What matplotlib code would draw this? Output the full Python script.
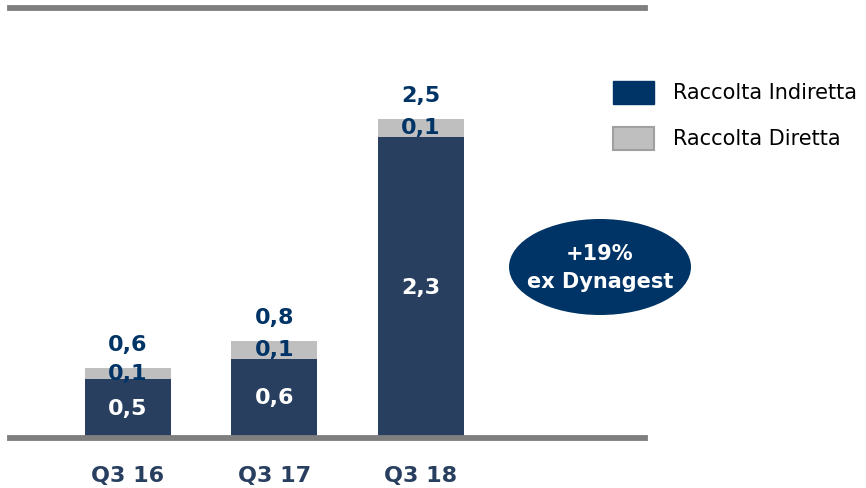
import matplotlib.pyplot as plt
from matplotlib.patches import Patch, Ellipse

# dati (mld di euro)
periodi = ["Q3 16", "Q3 17", "Q3 18"]
indiretta = [0.46, 0.62, 2.36]
diretta = [0.09, 0.14, 0.14]
label_indiretta = ["0,5", "0,6", "2,3"]
label_diretta = ["0,1", "0,1", "0,1"]
label_totale = ["0,6", "0,8", "2,5"]

col_ind = "#283f5f"
col_dir = "#bfbfbf"
navy = "#003366"
linea = "#7f7f7f"

plt.rcParams["font.family"] = ["DejaVu Sans"]

fig = plt.figure(figsize=(8.66, 4.88), dpi=100)
W, H = 866, 488
ax = fig.add_axes([10 / W, (H - 438) / H, 635 / W, 430.3 / H])

x = list(range(len(periodi)))
b1 = ax.bar(x, indiretta, width=0.587, color=col_ind, zorder=2)
b2 = ax.bar(x, diretta, width=0.587, bottom=indiretta, color=col_dir, zorder=2)

ax.set_xlim(-0.805, 3.529)
ax.set_ylim(0, 3.375)

for i in x:
    ax.text(i, indiretta[i] / 2, label_indiretta[i], ha="center", va="center",
            color="white", fontsize=16, fontweight="bold", zorder=3)
    ax.text(i, indiretta[i] + diretta[i] / 2, label_diretta[i], ha="center", va="center",
            color=navy, fontsize=16, fontweight="bold", zorder=3)
    ax.annotate(label_totale[i], (i, indiretta[i] + diretta[i]), xytext=(0, 16.5),
                textcoords="offset points", ha="center", va="center",
                color=navy, fontsize=16, fontweight="bold")

ax.set_xticks(x)
ax.set_xticklabels(periodi, fontsize=16, fontweight="bold", color=col_ind)
ax.tick_params(axis="x", length=0, pad=20)
ax.set_yticks([])
for s in ["left", "right"]:
    ax.spines[s].set_visible(False)
for s in ["top", "bottom"]:
    ax.spines[s].set_color(linea)
    ax.spines[s].set_linewidth(4.2)
    ax.spines[s].set_zorder(4)

# legenda
handles = [Patch(facecolor=navy, edgecolor=navy, label="Raccolta Indiretta"),
           Patch(facecolor=col_dir, edgecolor="#a0a0a0", linewidth=1.5, label="Raccolta Diretta")]
fig.legend(handles=handles, loc="upper left", bbox_to_anchor=(613 / W, 1 - 81 / H),
           frameon=False, fontsize=15, handlelength=1.97, handleheight=1.3,
           handletextpad=0.9, labelspacing=1.12, borderpad=0, borderaxespad=0)

# ellisse
ell = Ellipse((600 / W, 1 - 267 / H), 182 / W, 96 / H, transform=fig.transFigure,
              facecolor=navy, edgecolor="none")
fig.add_artist(ell)
fig.text(600 / W, 1 - 254 / H, "+19%", ha="center", va="center", color="white",
         fontsize=15, fontweight="bold")
fig.text(600 / W, 1 - 282 / H, "ex Dynagest", ha="center", va="center", color="white",
         fontsize=15, fontweight="bold")

fig.savefig("out.png", dpi=100)
